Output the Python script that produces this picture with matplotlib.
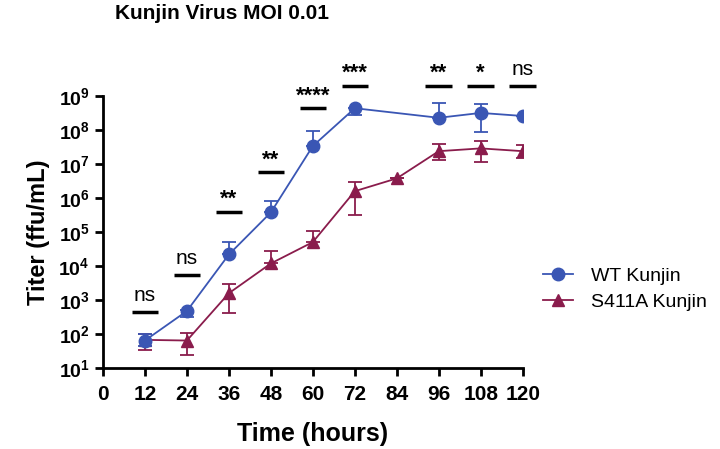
import numpy as np
import matplotlib.pyplot as plt

plt.rcParams['font.family'] = ['Liberation Sans', 'DejaVu Sans']
plt.rcParams['mathtext.fontset'] = 'custom'
plt.rcParams['mathtext.bf'] = 'Liberation Sans:bold'
plt.rcParams['mathtext.rm'] = 'Liberation Sans'

hours = [12, 24, 36, 48, 60, 72, 96, 108, 120]
wt = [65, 480, 2.2e4, 3.8e5, 3.4e7, 4.4e8, 2.3e8, 3.2e8, 2.6e8]
wt_lo = [45, 330, 2.2e4, 3.8e5, 3.4e7, 2.8e8, 2.3e8, 8.9e7, 2.6e8]
wt_hi = [100, 500, 5.1e4, 8.1e5, 9.3e7, 4.4e8, 6.1e8, 5.8e8, 2.6e8]

s_hours = [12, 24, 36, 48, 60, 72, 84, 96, 108, 120]
s411a = [68, 65, 1.6e3, 1.2e4, 5.1e4, 1.6e6, 3.8e6, 2.4e7, 2.9e7, 2.4e7]
s411a_lo = [34, 24, 430, 1.2e4, 5.1e4, 3.2e5, 3.8e6, 1.3e7, 1.15e7, 1.5e7]
s411a_hi = [100, 105, 2.9e3, 2.8e4, 1.1e5, 3.0e6, 3.8e6, 3.9e7, 4.8e7, 3.6e7]

sig_hours = [12, 24, 36, 48, 60, 72, 96, 108, 120]
sig_labels = ['ns', 'ns', '**', '**', '****', '***', '**', '*', 'ns']
sig_line_log = [2.66, 3.74, 5.6, 6.77, 8.64, 9.30, 9.30, 9.30, 9.30]

blue = '#3A56B4'
maroon = '#8A1C4C'

fig = plt.figure(figsize=(7.2, 4.49), dpi=100)
ax = fig.add_axes([0.143, 0.180, 0.583, 0.606])

wt = np.array(wt)
s411a = np.array(s411a)
h1 = ax.errorbar(hours, wt, yerr=[wt - np.array(wt_lo), np.array(wt_hi) - wt],
                 color=blue, marker='o', markersize=9, lw=1.3, capsize=5,
                 elinewidth=1.3, capthick=1.3, label='WT Kunjin', zorder=3)
h2 = ax.errorbar(s_hours, s411a, yerr=[s411a - np.array(s411a_lo), np.array(s411a_hi) - s411a],
                 color=maroon, marker='^', markersize=9, lw=1.3, capsize=5,
                 elinewidth=1.3, capthick=1.3, label='S411A Kunjin', zorder=2)

ax.set_yscale('log')
ax.set_ylim(10, 1e9)
ax.set_xlim(0, 120)
ax.set_xticks(range(0, 121, 12))
ax.set_xticklabels([str(t) for t in range(0, 121, 12)], fontsize=15, fontweight='bold')
ax.set_yticks([10.0 ** k for k in range(1, 10)])
ax.set_yticklabels([r'$\mathbf{10^{%d}}$' % k for k in range(1, 10)], fontsize=14)
ax.yaxis.set_minor_locator(plt.NullLocator())

for s in ['top', 'right']:
    ax.spines[s].set_visible(False)
for s in ['left', 'bottom']:
    ax.spines[s].set_linewidth(2)
ax.tick_params(width=2, length=6, direction='out')
ax.tick_params(axis='x', pad=6)

# significance marks
for h, lab, ly in zip(sig_hours, sig_labels, sig_line_log):
    ax.plot([h - 3.8, h + 3.8], [10 ** ly, 10 ** ly], color='black', lw=2.5,
            clip_on=False, solid_capstyle='butt')
    if lab == 'ns':
        ax.text(h, 10 ** (ly + 0.2), lab, ha='center', va='bottom', fontsize=15)
    else:
        ax.text(h, 10 ** (ly + 0.05), lab, ha='center', va='bottom', fontsize=16,
                fontweight='bold')

ax.set_xlabel('Time (hours)', fontsize=18, fontweight='bold', labelpad=13)
ax.set_ylabel('Titer (ffu/mL)', fontsize=17, fontweight='bold', labelpad=6)
fig.text(0.308, 0.97, 'Kunjin Virus MOI 0.01', ha='center', va='center',
         fontsize=15, fontweight='bold')

ax.legend([h1[0], h2[0]], ['WT Kunjin', 'S411A Kunjin'], loc='center left',
          bbox_to_anchor=(0.754, 0.356), bbox_transform=fig.transFigure,
          frameon=False, fontsize=14, handlelength=1.55, handletextpad=0.9,
          borderpad=0, borderaxespad=0, labelspacing=0.4)

fig.savefig('out.png', dpi=100)
